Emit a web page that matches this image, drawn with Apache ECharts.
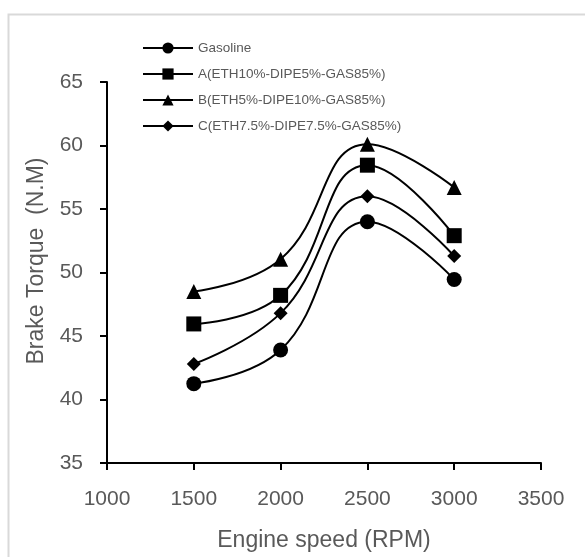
<!DOCTYPE html>
<html>
<head>
<meta charset="utf-8">
<script src="https://cdn.jsdelivr.net/npm/echarts@6/dist/echarts.min.js"></script>
<style>html,body{margin:0;padding:0;background:#fff}#c{width:585px;height:557px}</style>
</head>
<body>
<div id="c"></div>
<script>
const rpm = [1500, 2000, 2500, 3000];
const gasoline = [41.25, 43.9, 54.0, 49.45];
const blendA = [45.95, 48.2, 58.45, 52.9];
const blendB = [48.5, 51.05, 60.1, 56.7];
const blendC = [42.8, 46.8, 56.0, 51.3];
const seriesNames = ['Gasoline', 'A(ETH10%-DIPE5%-GAS85%)', 'B(ETH5%-DIPE10%-GAS85%)', 'C(ETH7.5%-DIPE7.5%-GAS85%)'];
const seriesSymbols = ['circle', 'rect', 'triangle', 'diamond'];
const seriesSizes = [15, 15, 15, 14];
const seriesValues = [gasoline, blendA, blendB, blendC];

const FONT = '"Liberation Sans", Arial, sans-serif';
const chart = echarts.init(document.getElementById('c'), null, {renderer: 'canvas'});
const series = seriesValues.map((vals, i) => ({
  name: seriesNames[i],
  type: 'line',
  smooth: 0.45,
  data: rpm.map((x, j) => [x, vals[j]]),
  symbol: seriesSymbols[i],
  symbolSize: seriesSizes[i],
  lineStyle: {color: '#000', width: 2},
  itemStyle: {color: '#000'},
  z: 3
}));

chart.setOption({
  animation: false,
  backgroundColor: '#fff',
  grid: {left: 107, right: 44, top: 82, bottom: 91},
  legend: {
    orient: 'vertical',
    left: 137,
    top: 36,
    itemWidth: 50,
    itemHeight: 14,
    itemGap: 12,
    textStyle: {fontFamily: FONT, fontSize: 13.5, color: '#595959'},
    data: seriesNames
  },
  xAxis: {
    type: 'value',
    min: 1000, max: 3500, interval: 500,
    splitLine: {show: false},
    axisLine: {lineStyle: {color: '#000', width: 2}},
    axisTick: {show: true, length: 7, lineStyle: {color: '#000', width: 2}},
    axisLabel: {fontFamily: FONT, fontSize: 21, color: '#595959', margin: 26, formatter: v => String(v)},
    name: 'Engine speed (RPM)',
    nameLocation: 'middle',
    nameGap: 66,
    nameTextStyle: {fontFamily: FONT, fontSize: 23, color: '#595959'}
  },
  yAxis: {
    type: 'value',
    min: 35, max: 65, interval: 5,
    splitLine: {show: false},
    axisLine: {show: true, lineStyle: {color: '#000', width: 2}},
    axisTick: {show: true, length: 7, lineStyle: {color: '#000', width: 2}},
    axisLabel: {fontFamily: FONT, fontSize: 21, color: '#595959', margin: 24, formatter: v => String(v)}
  },
  graphic: [
    {type: 'rect', left: 6, top: 12, shape: {width: 620, height: 600}, style: {fill: 'none', stroke: '#d9d9d9', lineWidth: 2}, silent: true, z: -10},
    {type: 'text', x: 37, y: 261, rotation: Math.PI / 2,
     style: {text: 'Brake Torque  (N.M)', fontFamily: FONT, fontSize: 23, fill: '#595959', align: 'center', verticalAlign: 'middle'}}
  ],
  series: series
});
</script>
</body>
</html>
